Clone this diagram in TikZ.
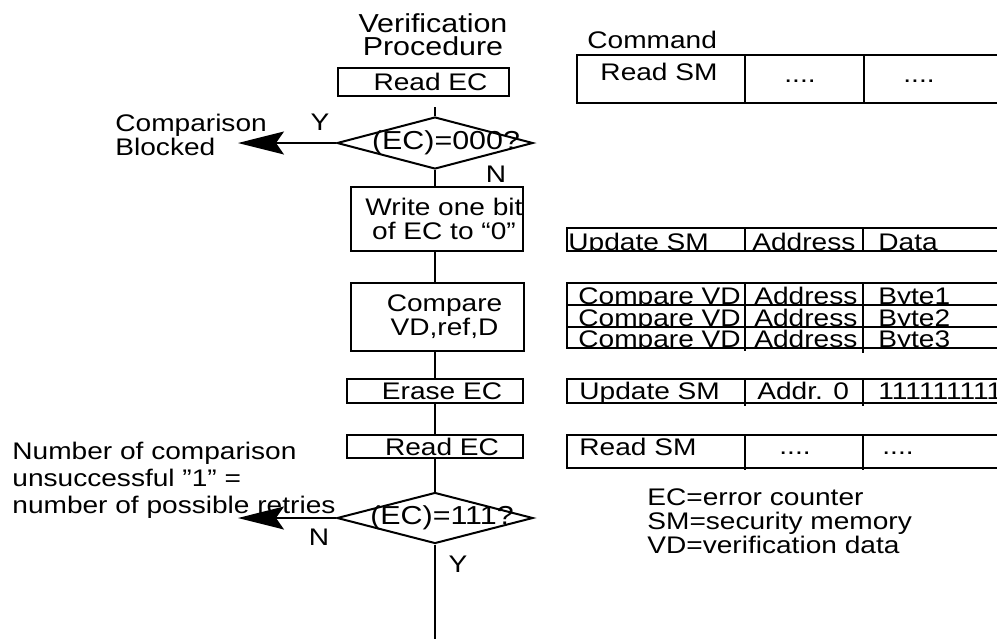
\documentclass[tikz,border=0pt]{standalone}
\usepackage{fontspec}
\setmainfont{Liberation Sans}[FakeStretch=1.17]
\usetikzlibrary{shapes.geometric,arrows.meta}
\tikzset{
  every node/.style={font=\fontsize{12}{12}\selectfont, inner sep=0pt},
  stepbox/.style={draw, line width=1.2pt, align=center},
  decision/.style={draw, diamond, line width=1pt},
  flow/.style={line width=1.2pt},
  exitarrow/.style={line width=0.8pt, -{Stealth[length=23pt,width=11.5pt,inset=4pt]}},
  cell/.style={anchor=base west},
}
\newcommand{\ind}{\hspace*{7pt}}
\begin{document}
\begin{tikzpicture}[x=0.5pt,y=-0.5pt]
\useasboundingbox (0,0) rectangle (997,639);
\clip (0,0) rectangle (997,639);
% flow chart
\node[align=center, font=\fontsize{13}{11.5}\selectfont] (title) at (433,35) {Verification\\Procedure};
\node[stepbox, minimum width=85.5pt, minimum height=14pt] (rdA) at (423.5,82) {\ind Read EC};
\node[decision, minimum width=98pt, minimum height=26pt] (decA) at (435,143) {};
\node[font=\fontsize{13}{13}\selectfont] (decAtxt) at (446,143) {(EC)=000?};
\node[stepbox, minimum width=86pt, minimum height=32pt] (wr) at (437,219) {\ind Write one bit\\\ind of EC to “0”};
\node[stepbox, minimum width=86.5pt, minimum height=34pt] (cmp) at (437.5,317) {\ind Compare\\\ind VD,ref,D};
\node[stepbox, minimum width=88pt, minimum height=12pt] (er) at (435,391) {\ind Erase EC};
\node[stepbox, minimum width=88pt, minimum height=11.5pt] (rdB) at (435,446.5) {\ind Read EC};
\node[decision, minimum width=98pt, minimum height=25.5pt] (decB) at (435,518) {};
\node[font=\fontsize{13}{13}\selectfont] (decBtxt) at (442,518) {(EC)=111?};
\coordinate (blocked) at (238,143);
\coordinate (retry) at (238,518);
\coordinate (done) at (435,639);
\draw[flow, shorten <=5pt] (decA.north |- rdA.south) -- (decA.north);
\draw[flow] (decA.south) -- (decA.south |- wr.north);
\draw[flow] (decA.south |- wr.south) -- (decA.south |- cmp.north);
\draw[flow] (decA.south |- cmp.south) -- (er.north);
\draw[flow] (er.south) -- (rdB.north);
\draw[flow] (rdB.south) -- (decB.north);
\draw[flow] (decB.south) -- (done);
\draw[exitarrow] (decA.west) -- (blocked);
\draw[exitarrow] (decB.west) -- (retry);
\node[anchor=base] (yA) at (320,130) {Y};
\node[anchor=base] (nA) at (496,182) {N};
\node[anchor=base] (nB) at (319,545) {N};
\node[anchor=base] (yB) at (458,572) {Y};
\node[anchor=base west, align=left] (blk) at (115,155) {Comparison\\Blocked};
\node[anchor=base west, align=left, font=\fontsize{12}{13.3}\selectfont] (cnt) at (12,513)
  {Number of comparison\\unsuccessful ”1” =\\number of possible retries};
% commands
\node[cell] (cmdhd) at (587,48) {Command};
\draw[flow] (997,55) -- (577,55) -- (577,103) -- (997,103);
\draw[flow] (745,55) -- (745,103) (864,55) -- (864,103);
\node[anchor=base] (rsA) at (659,80) {Read SM};
\node[anchor=base] (dotsA) at (800,82) {....};
\node[anchor=base] (dotsB) at (919,82) {....};
\begin{scope}
\clip (567,228) rectangle (997,251);
\node[cell] (upA) at (568,250) {Update SM};
\node[cell] (adA) at (752,250) {Address};
\node[cell] (daA) at (878,250) {Data};
\end{scope}
\draw[flow] (997,228) -- (567,228) -- (567,251) -- (997,251);
\draw[flow] (745,228) -- (745,251) (863,228) -- (863,251);
\foreach \yt/\yb/\b in {283/305/1, 305/327/2, 327/348/3} {
  \begin{scope}
  \clip (567,\yt) rectangle (997,\yb);
  \node[cell] (cv\b) at (578,\yb-1) {Compare VD};
  \node[cell] (ca\b) at (754,\yb-1) {Address};
  \node[cell] (cb\b) at (878,\yb-1) {Byte\b};
  \end{scope}
}
\draw[flow] (997,283) -- (567,283) -- (567,348) -- (997,348);
\draw[flow] (567,305) -- (997,305) (567,327) -- (997,327);
\draw[flow] (745,283) -- (745,351) (863,283) -- (863,353);
\node[cell] (upB) at (579,399) {Update SM};
\node[cell] (adB) at (757,399) {Addr. 0};
\node[cell] (ones) at (878,399) {111111111};
\draw[flow] (997,379) -- (567,379) -- (567,403) -- (997,403);
\draw[flow] (745,379) -- (745,406) (863,379) -- (863,406);
\node[cell] (rsB) at (579,455) {Read SM};
\node[anchor=base] (dotsC) at (795,454) {....};
\node[anchor=base] (dotsD) at (898,454) {....};
\draw[flow] (997,435) -- (567,435) -- (567,468) -- (997,468);
\draw[flow] (745,435) -- (745,470) (863,435) -- (863,470);
% legend
\node[anchor=base west, align=left] (legend) at (647,553)
  {EC=error counter\\SM=security memory\\VD=verification data};
\end{tikzpicture}
\end{document}
